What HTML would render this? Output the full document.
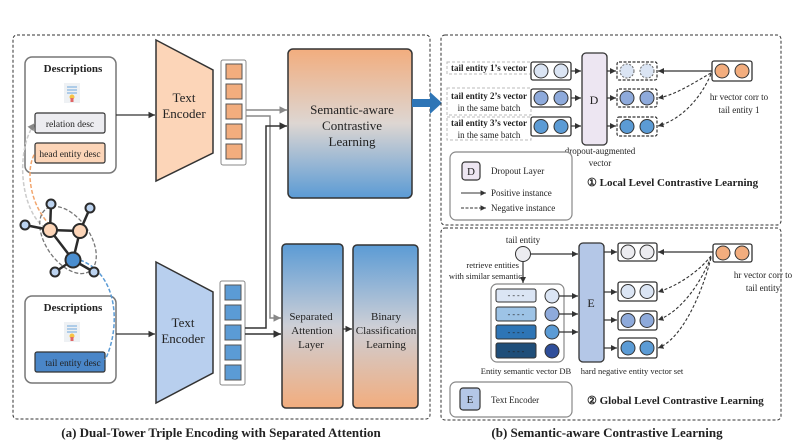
<!DOCTYPE html>
<html><head><meta charset="utf-8"><style>
body{margin:0;background:#fff}
svg{display:block}
text{font-family:"Liberation Serif",serif;fill:#222}
</style></head><body>
<svg width="793" height="446" viewBox="0 0 793 446" xmlns="http://www.w3.org/2000/svg">
<defs>
<marker id="a" markerWidth="6" markerHeight="6" refX="5" refY="3" orient="auto"><path d="M0,0.5 L5,3 L0,5.5z" fill="#333"/></marker>
<marker id="ag" markerWidth="6" markerHeight="6" refX="5" refY="3" orient="auto"><path d="M0,0.5 L5,3 L0,5.5z" fill="#888"/></marker>
<linearGradient id="g1" x1="0" y1="0" x2="0" y2="1"><stop offset="0" stop-color="#f2ad7e"/><stop offset="0.5" stop-color="#ddd6d2"/><stop offset="1" stop-color="#5b9bd5"/></linearGradient>
<linearGradient id="g2" x1="0" y1="0" x2="0" y2="1"><stop offset="0" stop-color="#5b9bd5"/><stop offset="0.5" stop-color="#cdcfd6"/><stop offset="1" stop-color="#f2ad7e"/></linearGradient>
<g id="doc"><rect x="-8" y="-9" width="16" height="20" fill="#eef1f4"/><line x1="-5" y1="-5" x2="5" y2="-5" stroke="#6fa8dc"/><line x1="-5" y1="-2" x2="5" y2="-2" stroke="#6fa8dc"/><line x1="-5" y1="1" x2="5" y2="1" stroke="#6fa8dc"/><circle cx="0" cy="5" r="2.5" fill="#f6c344"/><rect x="-1.5" y="6" width="3" height="4" fill="#e06666"/></g>
</defs>

<!-- LEFT PANEL -->
<rect x="13" y="35" width="417" height="384" rx="4" fill="none" stroke="#333" stroke-dasharray="3,2"/>
<rect x="25" y="57" width="91" height="116" rx="7" fill="#fff" stroke="#777" stroke-width="1.5"/>
<text x="73" y="72" font-size="11" font-weight="bold" text-anchor="middle">Descriptions</text>
<use href="#doc" x="72" y="92"/>
<rect x="35" y="113" width="70" height="20" rx="2" fill="#ececf0" stroke="#333" stroke-width="1.2"/>
<text x="70" y="127" font-size="9.5" text-anchor="middle">relation desc</text>
<rect x="35" y="143" width="70" height="20" rx="2" fill="#fcd5b8" stroke="#333" stroke-width="1.2"/>
<text x="70" y="157" font-size="9.5" text-anchor="middle">head entity desc</text>

<rect x="25" y="296" width="91" height="87" rx="7" fill="#fff" stroke="#777" stroke-width="1.5"/>
<text x="73" y="311" font-size="11" font-weight="bold" text-anchor="middle">Descriptions</text>
<use href="#doc" x="72" y="331"/>
<rect x="35" y="352" width="70" height="20" rx="2" fill="#4a86c8" stroke="#333" stroke-width="1.2"/>
<text x="73" y="366" font-size="9.5" text-anchor="middle">tail entity desc</text>

<path d="M45,228 C20,210 15,150 35,123" fill="none" stroke="#ccc" stroke-width="1.5" stroke-dasharray="4,2" marker-end="url(#ag)"/>
<path d="M50,225 C30,205 25,170 35,153" fill="none" stroke="#f2a66e" stroke-width="1.5" stroke-dasharray="4,2"/>
<path d="M80,260 C120,275 120,330 105,360" fill="none" stroke="#5b9bd5" stroke-width="1.5" stroke-dasharray="4,2"/>
<ellipse cx="68" cy="240" rx="22" ry="38" transform="rotate(-35 68 240)" fill="none" stroke="#777" stroke-width="1.3" stroke-dasharray="4,2"/>
<g stroke="#2b2b2b" stroke-width="2.5">
<line x1="50" y1="230" x2="80" y2="231"/><line x1="50" y1="230" x2="73" y2="260"/><line x1="80" y1="231" x2="73" y2="260"/>
<line x1="50" y1="230" x2="51" y2="204"/><line x1="80" y1="231" x2="90" y2="208"/><line x1="50" y1="230" x2="25" y2="225"/>
<line x1="73" y1="260" x2="55" y2="272"/><line x1="73" y1="260" x2="94" y2="272"/>
</g>
<g stroke="#2b2b2b" stroke-width="2">
<circle cx="51" cy="204" r="4.5" fill="#bcd3f0"/><circle cx="90" cy="208" r="4.5" fill="#bcd3f0"/><circle cx="25" cy="225" r="4.5" fill="#bcd3f0"/>
<circle cx="55" cy="272" r="4.5" fill="#bcd3f0"/><circle cx="94" cy="272" r="4.5" fill="#bcd3f0"/>
<circle cx="50" cy="230" r="7" fill="#fcd5b8"/><circle cx="80" cy="231" r="7" fill="#fcd5b8"/><circle cx="73" cy="260" r="7.5" fill="#4a8ed0"/>
</g>

<polygon points="156,40 213,70 213,153 156,181" fill="#fcd5b8" stroke="#333" stroke-width="1.5"/>
<text x="184" y="102" font-size="13" text-anchor="middle">Text</text><text x="184" y="118" font-size="13" text-anchor="middle">Encoder</text>
<polygon points="156,262 213,292 213,373 156,403" fill="#b8cfee" stroke="#333" stroke-width="1.5"/>
<text x="183" y="327" font-size="13" text-anchor="middle">Text</text><text x="183" y="343" font-size="13" text-anchor="middle">Encoder</text>
<line x1="116" y1="115" x2="155" y2="115" stroke="#333" stroke-width="1.3" marker-end="url(#a)"/>
<line x1="116" y1="334" x2="155" y2="334" stroke="#333" stroke-width="1.3" marker-end="url(#a)"/>

<rect x="221" y="60" width="25" height="105" rx="2" fill="#fff" stroke="#888"/>
<g fill="#f2ad7e" stroke="#555"><rect x="226" y="64" width="16" height="15"/><rect x="226" y="84" width="16" height="15"/><rect x="226" y="104" width="16" height="15"/><rect x="226" y="124" width="16" height="15"/><rect x="226" y="144" width="16" height="15"/></g>
<rect x="220" y="281" width="25" height="104" rx="2" fill="#fff" stroke="#888"/>
<g fill="#5b9bd5" stroke="#555"><rect x="225" y="285" width="16" height="15"/><rect x="225" y="305" width="16" height="15"/><rect x="225" y="325" width="16" height="15"/><rect x="225" y="345" width="16" height="15"/><rect x="225" y="365" width="16" height="15"/></g>

<rect x="288" y="49" width="124" height="149" rx="5" fill="url(#g1)" stroke="#333" stroke-width="1.5"/>
<text x="352" y="114" font-size="13" text-anchor="middle">Semantic-aware</text>
<text x="352" y="130" font-size="13" text-anchor="middle">Contrastive</text>
<text x="352" y="146" font-size="13" text-anchor="middle">Learning</text>
<rect x="282" y="244" width="61" height="164" rx="4" fill="url(#g2)" stroke="#333" stroke-width="1.5"/>
<text x="311" y="320" font-size="11" text-anchor="middle">Separated</text>
<text x="312" y="334" font-size="11" text-anchor="middle">Attention</text>
<text x="311" y="348" font-size="11" text-anchor="middle">Layer</text>
<rect x="353" y="245" width="65" height="163" rx="4" fill="url(#g2)" stroke="#333" stroke-width="1.5"/>
<text x="386" y="320" font-size="11" text-anchor="middle">Binary</text>
<text x="386" y="334" font-size="11" text-anchor="middle">Classification</text>
<text x="386" y="348" font-size="11" text-anchor="middle">Learning</text>
<line x1="343" y1="329" x2="352" y2="329" stroke="#333" stroke-width="1.3" marker-end="url(#a)"/>

<path d="M246,110 L287,110" fill="none" stroke="#888" stroke-width="1.5" marker-end="url(#ag)"/>
<path d="M246,116 L270,116 L270,318 L281,318" fill="none" stroke="#888" stroke-width="1.5" marker-end="url(#ag)"/>
<path d="M245,328 L266,328 L266,126 L287,126" fill="none" stroke="#333" stroke-width="1.5" marker-end="url(#a)"/>
<path d="M245,334 L281,334" fill="none" stroke="#333" stroke-width="1.5" marker-end="url(#a)"/>

<polygon points="412,99 430,99 430,92 442,103 430,114 430,107 412,107" fill="#2e75b6"/>

<text x="221" y="437" font-size="13" font-weight="bold" text-anchor="middle">(a) Dual-Tower Triple Encoding with Separated Attention</text>

<!-- RIGHT TOP -->
<rect x="441" y="35" width="340" height="190" rx="4" fill="none" stroke="#333" stroke-dasharray="3,2"/>
<g fill="#fff" stroke="#bbb" stroke-dasharray="3,2">
<rect x="447" y="62" width="84" height="12"/><rect x="447" y="88" width="84" height="27"/><rect x="447" y="117" width="84" height="23"/>
</g>
<g font-size="9" text-anchor="middle" font-weight="bold">
<text x="489" y="71">tail entity 1’s vector</text>
<text x="489" y="99">tail entity 2’s vector</text><text x="489" y="111" font-weight="normal">in the same batch</text>
<text x="489" y="126">tail entity 3’s vector</text><text x="489" y="138" font-weight="normal">in the same batch</text>
</g>
<g stroke="#333" stroke-width="1.3" fill="#fff">
<rect x="531" y="62" width="40" height="18" rx="2"/><rect x="531" y="89" width="40" height="18" rx="2"/><rect x="531" y="117" width="40" height="19" rx="2"/>
</g>
<g stroke="#333"><circle cx="541" cy="71" r="7" fill="#dbe5f4"/><circle cx="561" cy="71" r="7" fill="#dbe5f4"/>
<circle cx="541" cy="98" r="7" fill="#8eaadb"/><circle cx="561" cy="98" r="7" fill="#8eaadb"/>
<circle cx="541" cy="126.5" r="7" fill="#5b9bd5"/><circle cx="561" cy="126.5" r="7" fill="#5b9bd5"/></g>
<g stroke="#333" stroke-width="1.2"><line x1="571" y1="71" x2="581" y2="71" marker-end="url(#a)"/><line x1="571" y1="98" x2="581" y2="98" marker-end="url(#a)"/><line x1="571" y1="126" x2="581" y2="126" marker-end="url(#a)"/>
<line x1="607" y1="71" x2="616" y2="71" marker-end="url(#a)"/><line x1="607" y1="98" x2="616" y2="98" marker-end="url(#a)"/><line x1="607" y1="126" x2="616" y2="126" marker-end="url(#a)"/></g>
<rect x="582" y="53" width="25" height="92" rx="4" fill="#ede6f2" stroke="#333" stroke-width="1.3"/>
<text x="594" y="104" font-size="12" text-anchor="middle">D</text>
<g stroke="#333" stroke-width="1.2" stroke-dasharray="3,1.5" fill="#fff">
<rect x="617" y="62" width="40" height="18" rx="2"/><rect x="617" y="89" width="40" height="18" rx="2"/><rect x="617" y="117" width="40" height="19" rx="2"/></g>
<circle cx="627" cy="71" r="7" fill="#dbe5f4" stroke="#666" stroke-dasharray="2,1.5"/><circle cx="647" cy="71" r="7" fill="#dbe5f4" stroke="#666" stroke-dasharray="2,1.5"/>
<g stroke="#333"><circle cx="627" cy="98" r="7" fill="#8eaadb"/><circle cx="647" cy="98" r="7" fill="#8eaadb"/>
<circle cx="627" cy="126.5" r="7" fill="#5b9bd5"/><circle cx="647" cy="126.5" r="7" fill="#5b9bd5"/></g>
<rect x="712" y="61" width="40" height="20" rx="2" fill="#fff" stroke="#333" stroke-width="1.3"/>
<circle cx="722" cy="71" r="7" fill="#f2ad7e" stroke="#333"/><circle cx="742" cy="71" r="7" fill="#f2ad7e" stroke="#333"/>
<line x1="712" y1="71" x2="658" y2="71" stroke="#333" stroke-width="1.2" marker-end="url(#a)"/>
<path d="M711,73 C690,85 675,95 658,98" fill="none" stroke="#333" stroke-width="1.1" stroke-dasharray="3,2" marker-end="url(#a)"/>
<path d="M711,74 C700,100 680,120 658,126" fill="none" stroke="#333" stroke-width="1.1" stroke-dasharray="3,2" marker-end="url(#a)"/>
<text x="739" y="100" font-size="9" text-anchor="middle">hr vector corr to</text>
<text x="739" y="113" font-size="9" text-anchor="middle">tail entity 1</text>
<text x="600" y="154" font-size="9" text-anchor="middle">dropout-augmented</text>
<text x="600" y="166" font-size="9" text-anchor="middle">vector</text>
<rect x="450" y="152" width="122" height="68" rx="6" fill="#fff" stroke="#888" stroke-width="1.2"/>
<rect x="462" y="162" width="18" height="18" rx="3" fill="#ede6f2" stroke="#333" stroke-width="1.2"/>
<text x="471" y="175" font-size="11" text-anchor="middle">D</text>
<text x="491" y="174" font-size="9">Dropout Layer</text>
<line x1="461" y1="193" x2="486" y2="193" stroke="#333" stroke-width="1.1" marker-end="url(#a)"/>
<text x="491" y="196" font-size="9">Positive instance</text>
<line x1="461" y1="208" x2="486" y2="208" stroke="#333" stroke-width="1.1" stroke-dasharray="3,1.5" marker-end="url(#a)"/>
<text x="491" y="211" font-size="9">Negative instance</text>
<text x="587" y="186" font-size="11" font-weight="bold">① Local Level Contrastive Learning</text>

<!-- RIGHT BOTTOM -->
<rect x="441" y="228" width="340" height="192" rx="4" fill="none" stroke="#333" stroke-dasharray="3,2"/>
<text x="523" y="243" font-size="9" text-anchor="middle">tail entity</text>
<circle cx="523" cy="254" r="7.5" fill="#ececf0" stroke="#333"/>
<line x1="531" y1="254" x2="578" y2="254" stroke="#333" stroke-width="1.2" marker-end="url(#a)"/>
<line x1="523" y1="262" x2="523" y2="283" stroke="#333" stroke-width="1.2" marker-end="url(#a)"/>
<text x="519" y="268" font-size="8.5" text-anchor="end">retrieve entities</text>
<text x="522" y="279" font-size="8.5" text-anchor="end">with similar semantic</text>
<rect x="491" y="284" width="73" height="78" rx="6" fill="#fff" stroke="#888" stroke-width="1.2"/>
<g stroke="#333">
<rect x="496" y="289" width="40" height="13" rx="2" fill="#dbe5f4"/><rect x="496" y="307" width="40" height="14" rx="2" fill="#9dc3e6"/>
<rect x="496" y="325" width="40" height="14" rx="2" fill="#2e75b6"/><rect x="496" y="343" width="40" height="15" rx="2" fill="#1f4e79"/>
<circle cx="552" cy="296" r="7" fill="#dbe5f4"/><circle cx="552" cy="314" r="7" fill="#8eaadb"/><circle cx="552" cy="332" r="7" fill="#5b9bd5"/><circle cx="552" cy="351" r="7" fill="#2f4e9a"/>
</g>
<g font-size="8" text-anchor="middle"><text x="516" y="298" fill="#555">- - - -</text><text x="516" y="317" fill="#333">- - - -</text><text x="516" y="335" fill="#ddd">- - - -</text><text x="516" y="354" fill="#ddd">- - - -</text></g>
<g stroke="#333" stroke-width="1.2"><line x1="559" y1="296" x2="578" y2="296" marker-end="url(#a)"/><line x1="559" y1="314" x2="578" y2="314" marker-end="url(#a)"/><line x1="559" y1="332" x2="578" y2="332" marker-end="url(#a)"/>
<line x1="604" y1="252" x2="617" y2="252" marker-end="url(#a)"/><line x1="604" y1="292" x2="617" y2="292" marker-end="url(#a)"/><line x1="604" y1="320" x2="617" y2="320" marker-end="url(#a)"/><line x1="604" y1="348" x2="617" y2="348" marker-end="url(#a)"/></g>
<rect x="579" y="243" width="25" height="119" rx="4" fill="#b4c7e7" stroke="#333" stroke-width="1.3"/>
<text x="591" y="307" font-size="12" text-anchor="middle">E</text>
<g stroke="#333" stroke-width="1.3" fill="#fff">
<rect x="618" y="243" width="39" height="18" rx="2"/><rect x="618" y="282" width="39" height="19" rx="2"/><rect x="618" y="311" width="39" height="19" rx="2"/><rect x="618" y="338" width="39" height="20" rx="2"/></g>
<g stroke="#333"><circle cx="628" cy="252" r="7" fill="#ececf0"/><circle cx="647" cy="252" r="7" fill="#ececf0"/>
<circle cx="628" cy="291.5" r="7" fill="#dbe5f4"/><circle cx="647" cy="291.5" r="7" fill="#dbe5f4"/>
<circle cx="628" cy="320.5" r="7" fill="#8eaadb"/><circle cx="647" cy="320.5" r="7" fill="#8eaadb"/>
<circle cx="628" cy="348" r="7" fill="#5b9bd5"/><circle cx="647" cy="348" r="7" fill="#5b9bd5"/></g>
<rect x="713" y="244" width="39" height="18" rx="2" fill="#fff" stroke="#333" stroke-width="1.3"/>
<circle cx="723" cy="253" r="7" fill="#f2ad7e" stroke="#333"/><circle cx="742" cy="253" r="7" fill="#f2ad7e" stroke="#333"/>
<line x1="713" y1="252" x2="658" y2="252" stroke="#333" stroke-width="1.2" marker-end="url(#a)"/>
<g fill="none" stroke="#333" stroke-width="1.1" stroke-dasharray="3,2">
<path d="M711,256 C700,270 680,285 658,292" marker-end="url(#a)"/>
<path d="M711,257 C700,285 680,312 658,320" marker-end="url(#a)"/>
<path d="M711,258 C700,300 680,340 658,348" marker-end="url(#a)"/>
</g>
<text x="763" y="278" font-size="9" text-anchor="middle">hr vector corr to</text>
<text x="763" y="291" font-size="9" text-anchor="middle">tail entity</text>
<text x="526" y="374" font-size="8.5" text-anchor="middle">Entity semantic vector DB</text>
<text x="632" y="374" font-size="8.5" text-anchor="middle">hard negative entity vector set</text>
<rect x="450" y="382" width="122" height="35" rx="6" fill="#fff" stroke="#888" stroke-width="1.2"/>
<rect x="460" y="388" width="20" height="22" rx="3" fill="#b4c7e7" stroke="#333" stroke-width="1.2"/>
<text x="470" y="403" font-size="11" text-anchor="middle">E</text>
<text x="491" y="403" font-size="9">Text Encoder</text>
<text x="587" y="404" font-size="11" font-weight="bold">② Global Level Contrastive Learning</text>
<text x="607" y="437" font-size="13" font-weight="bold" text-anchor="middle">(b) Semantic-aware Contrastive Learning</text>
</svg>
</body></html>
